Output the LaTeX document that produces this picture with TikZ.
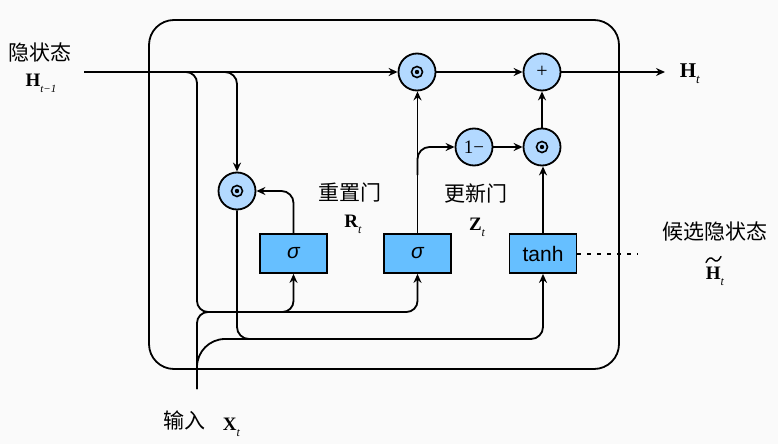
\documentclass[tikz,border=0pt]{standalone}
\usepackage{fontspec}
\newfontfamily\cjk{Noto Sans CJK SC}
\newfontfamily\arial{Liberation Sans}
\newfontfamily\tms{Liberation Serif}
\usetikzlibrary{arrows.meta}
\definecolor{bgcol}{HTML}{FAFAFA}
\definecolor{circfill}{HTML}{B3D9FF}
\definecolor{boxfill}{HTML}{66BFFF}
\newcommand\glbl[3]{{\bfseries #1}\raisebox{-0.32em}{\fontsize{#3}{#3}\selectfont\itshape #2}}
\begin{document}
\begin{tikzpicture}[x=1pt,y=-1pt,line width=1.8pt,
  arr/.style={-{Stealth[length=9pt,width=8pt,inset=3pt]}},
  opc/.style={circle,draw,fill=circfill,minimum size=37pt,inner sep=0pt},
  gate/.style={draw,fill=boxfill,minimum width=67pt,minimum height=39pt,inner sep=0pt,font=\arial\fontsize{21}{21}\selectfont},
  cjkl/.style={font=\cjk\fontsize{21}{24}\selectfont,inner sep=0pt},
  mlab/.style={font=\tms\fontsize{19}{20}\selectfont,inner sep=0pt}]
\fill[bgcol] (0,0) rectangle (778,444);
\useasboundingbox (0,0) rectangle (778,444);
% outer box
\draw[rounded corners=25pt] (149,20) rectangle (619,369);
% operation circles
\node[opc] (o1) at (417,72) {};
\node[opc,font=\tms\fontsize{20}{20}\selectfont] (pl) at (542,72) {+};
\node[opc,font=\tms\fontsize{19}{19}\selectfont] (om) at (474,147) {1−};
\node[opc] (o2) at (542,147) {};
\node[opc] (rr) at (237,191) {};
\foreach \n in {o1,o2,rr} {
  \draw[line width=1.6pt] (\n) circle (5.5pt);
  \fill (\n) circle (2.2pt);
}
% gates
\node[gate] (r) at (293.5,253.5) {\itshape σ};
\node[gate] (z) at (417.5,253.5) {\itshape σ};
\node[gate] (t) at (543,253.5) {tanh};
% free ends
\coordinate (hin) at (84,72);
\coordinate (xin) at (197,389);
\coordinate (hout) at (665,72);
\coordinate (dend) at (638,253.5);
% connectors
\draw[arr] (hin) -- (o1);
\draw[arr,rounded corners=11pt] (180,72) -- (197,72) -- (197,312) -| (r.south);
\draw[arr,rounded corners=11pt] (280,312) -| (z.south);
\draw[rounded corners=11pt] (xin) -- (197,312) -- (220,312);
\draw[arr,rounded corners=12pt] (220,72) -| (rr.north);
\draw[arr,rounded corners=12pt] (rr.south) |- (300,339) -| (t.south);
\draw[rounded corners=28pt] (xin) -- (197,339) -- (260,339);
\draw[arr,rounded corners=12pt] (r.north) |- (rr.east);
\draw[arr] (z.north) -- (z.north |- o1.south);
\draw[arr,rounded corners=12pt] (417.5,175) |- (om.west);
\draw[arr] (om) -- (o2);
\draw[arr] (t.north) -- (t.north |- o2.south);
\draw[arr] (o2) -- (pl);
\draw[arr] (o1) -- (pl);
\draw[arr] (pl) -- (hout);
\draw[line width=2pt,dash pattern=on 4pt off 6pt] (t.east) -- (dend);
% labels
\node[cjkl] (l1) at (40.5,52) {隐状态};
\node[mlab] (l2) at (41,83) {\glbl{H}{t−1}{11}};
\node[cjkl] (l3) at (350,193) {重置门};
\node[mlab] (l4) at (353,224) {\glbl{R}{t}{12}};
\node[cjkl] (l5) at (476,193) {更新门};
\node[mlab] (l6) at (477,227) {\glbl{Z}{t}{12}};
\node[cjkl] (l7) at (715,231) {候选隐状态};
\node[mlab,anchor=base] (l8) at (715,279) {\glbl{H}{t}{12}};
% tilde over H
\draw[line width=1.4pt,line cap=round] (706,262.5) .. controls (708.5,257) and (711.5,257) .. (713.5,259.5) .. controls (715.5,262) and (718.5,262) .. (721,256.5);
\node[font=\tms\fontsize{21}{24}\selectfont,inner sep=0pt,anchor=base west] (l9) at (679,77) {\glbl{H}{t}{13}};
\node[cjkl,anchor=base west] (l10) at (163,428) {输入};
\node[mlab,anchor=base west] (l11) at (222,430) {\glbl{X}{t}{12}};
\end{tikzpicture}
\end{document}
